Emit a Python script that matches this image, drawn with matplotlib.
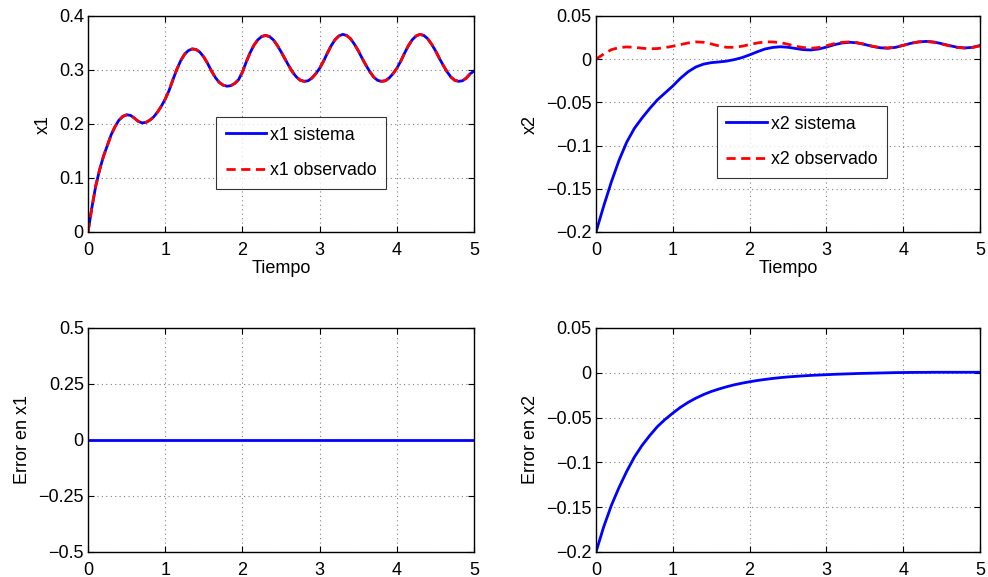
import numpy as np
import matplotlib
matplotlib.use("Agg")
import matplotlib.pyplot as plt

# ---------------- data ----------------
t_x1 = [round(0.05 * i, 2) for i in range(101)]
x1_sistema = [
    0.000, 0.045, 0.085, 0.115, 0.140, 0.160, 0.180, 0.195, 0.207, 0.214,
    0.217, 0.216, 0.211, 0.205, 0.202, 0.203, 0.207, 0.213, 0.222, 0.233,
    0.246, 0.262, 0.282, 0.301, 0.317, 0.329, 0.336, 0.339, 0.338, 0.333,
    0.324, 0.312, 0.298, 0.286, 0.277, 0.272, 0.270, 0.271, 0.275, 0.282,
    0.296, 0.315, 0.332, 0.346, 0.356, 0.362, 0.364, 0.362, 0.356, 0.346,
    0.334, 0.321, 0.308, 0.296, 0.287, 0.281, 0.279, 0.280, 0.285, 0.293,
    0.303, 0.316, 0.331, 0.345, 0.356, 0.363, 0.366, 0.364, 0.358, 0.348,
    0.336, 0.322, 0.309, 0.297, 0.287, 0.281, 0.279, 0.280, 0.285, 0.293,
    0.303, 0.316, 0.331, 0.345, 0.356, 0.363, 0.366, 0.364, 0.358, 0.348,
    0.336, 0.322, 0.309, 0.297, 0.287, 0.281, 0.279, 0.280, 0.285, 0.293,
    0.298,
]
x1_observado = list(x1_sistema)

t_x2 = [round(0.1 * i, 1) for i in range(51)]
x2_sistema = [
    -0.200, -0.170, -0.142, -0.117, -0.096, -0.080, -0.068, -0.057, -0.047, -0.039,
    -0.031, -0.022, -0.0145, -0.0090, -0.0057, -0.0040, -0.0032, -0.0022, -0.0005, 0.0018,
    0.0050, 0.0086, 0.0118, 0.0136, 0.0144, 0.0138, 0.0124, 0.0110, 0.0107, 0.0118,
    0.0140, 0.0167, 0.0187, 0.0196, 0.0189, 0.0170, 0.0148, 0.0132, 0.0127, 0.0137,
    0.0160, 0.0184, 0.0200, 0.0206, 0.0199, 0.0180, 0.0158, 0.0139, 0.0130, 0.0137,
    0.0158,
]
x2_observado = [
    0.000, 0.006, 0.011, 0.0135, 0.0142, 0.0138, 0.0127, 0.0120, 0.0123, 0.0135,
    0.0150, 0.0169, 0.0188, 0.0200, 0.0196, 0.0177, 0.0154, 0.0138, 0.0138, 0.0150,
    0.0169, 0.0188, 0.0200, 0.0200, 0.0192, 0.0173, 0.0150, 0.0135, 0.0127, 0.0135,
    0.0155, 0.0180, 0.0195, 0.0200, 0.0190, 0.0175, 0.0150, 0.0135, 0.0130, 0.0140,
    0.0160, 0.0185, 0.0200, 0.0205, 0.0195, 0.0175, 0.0155, 0.0135, 0.0130, 0.0135,
    0.0155,
]
error_x2 = [
    -0.200, -0.172, -0.148, -0.128, -0.110, -0.094, -0.081, -0.070, -0.060, -0.052,
    -0.045, -0.0385, -0.0330, -0.0283, -0.0243, -0.0209, -0.0181, -0.0156, -0.0134, -0.0116,
    -0.0100, -0.0086, -0.0074, -0.0063, -0.0054, -0.0046, -0.0040, -0.0034, -0.0029, -0.0025,
    -0.0021, -0.0017, -0.0014, -0.0011, -0.0008, -0.0006, -0.0004, -0.0002, 0.0000, 0.0002,
    0.0003, 0.0004, 0.0005, 0.0005, 0.0006, 0.0006, 0.0006, 0.0006, 0.0006, 0.0006,
    0.0006,
]
error_x1 = (np.array(x1_sistema) - np.array(x1_observado)).tolist()

xticks = [0, 1, 2, 3, 4, 5]
yticks_x1 = [0, 0.1, 0.2, 0.3, 0.4]
yticklabels_x1 = ["0", "0.1", "0.2", "0.3", "0.4"]
yticks_x2 = [-0.2, -0.15, -0.1, -0.05, 0, 0.05]
yticklabels_x2 = ["\u22120.2", "\u22120.15", "\u22120.1", "\u22120.05", "0", "0.05"]
yticks_e1 = [-0.5, -0.25, 0, 0.25, 0.5]
yticklabels_e1 = ["\u22120.5", "\u22120.25", "0", "0.25", "0.5"]

# ---------------- style ----------------
plt.rcParams['font.family'] = ['Liberation Sans', 'DejaVu Sans']
FS = 13
LFS = 12.8
BLUE = '#0000ff'
RED = '#ff0000'

fig = plt.figure(figsize=(9.88, 5.77), dpi=100)
W, H = 988, 577

def make_ax(l, r, t, b):
    return fig.add_axes([l / W, 1 - b / H, (r - l) / W, (b - t) / H])

ax1 = make_ax(88, 474, 16, 232)
ax2 = make_ax(596, 980, 16, 232)
ax3 = make_ax(88, 474, 328, 552)
ax4 = make_ax(596, 980, 328, 552)

def style(ax, yt, ytl, ylim):
    ax.set_xlim(0, 5)
    ax.set_ylim(*ylim)
    ax.set_xticks(xticks)
    ax.set_xticklabels([str(v) for v in xticks])
    ax.set_yticks(yt)
    ax.set_yticklabels(ytl)
    ax.tick_params(direction='in', length=4, width=0.8, top=True, right=True,
                   labelsize=FS)
    ax.tick_params(axis='x', pad=7)
    ax.tick_params(axis='y', pad=3)
    ax.grid(True, linestyle=(0, (1, 3)), color='#808080', linewidth=0.8)
    for s in ax.spines.values():
        s.set_linewidth(1.0)
        s.set_color('black')

lw = 2.0
DASH = (0, (3.3, 2))
ax1.plot(t_x1, x1_sistema, color=BLUE, lw=lw, label='x1 sistema')
ax1.plot(t_x1, x1_observado, color=RED, lw=lw, ls=DASH, label='x1 observado')
style(ax1, yticks_x1, yticklabels_x1, (0, 0.4))
ax1.set_ylabel('x1', fontsize=FS, labelpad=5)
ax1.set_xlabel('Tiempo', fontsize=FS, labelpad=1)

ax2.plot(t_x2, x2_sistema, color=BLUE, lw=lw, label='x2 sistema')
ax2.plot(t_x2, x2_observado, color=RED, lw=lw, ls=DASH, label='x2 observado')
style(ax2, yticks_x2, yticklabels_x2, (-0.2, 0.05))
ax2.set_ylabel('x2', fontsize=FS, labelpad=5)
ax2.set_xlabel('Tiempo', fontsize=FS, labelpad=1)

ax3.plot(t_x1, error_x1, color=BLUE, lw=lw)
style(ax3, yticks_e1, yticklabels_e1, (-0.5, 0.5))
ax3.set_ylabel('Error en x1', fontsize=FS, labelpad=5)

ax4.plot(t_x2, error_x2, color=BLUE, lw=lw)
style(ax4, yticks_x2, yticklabels_x2, (-0.2, 0.05))
ax4.set_ylabel('Error en x2', fontsize=FS, labelpad=5)

for ax, anchor in ((ax1, (0.331, 0.199)), (ax2, (0.314, 0.25))):
    leg = ax.legend(loc='lower left', bbox_to_anchor=anchor, fontsize=LFS,
                    frameon=True, fancybox=False, edgecolor='black',
                    handlelength=2.3, handletextpad=0.2, labelspacing=1.05,
                    borderpad=0.55, borderaxespad=0)
    leg.get_frame().set_linewidth(0.8)

fig.savefig('out.png', dpi=100, facecolor='white')
